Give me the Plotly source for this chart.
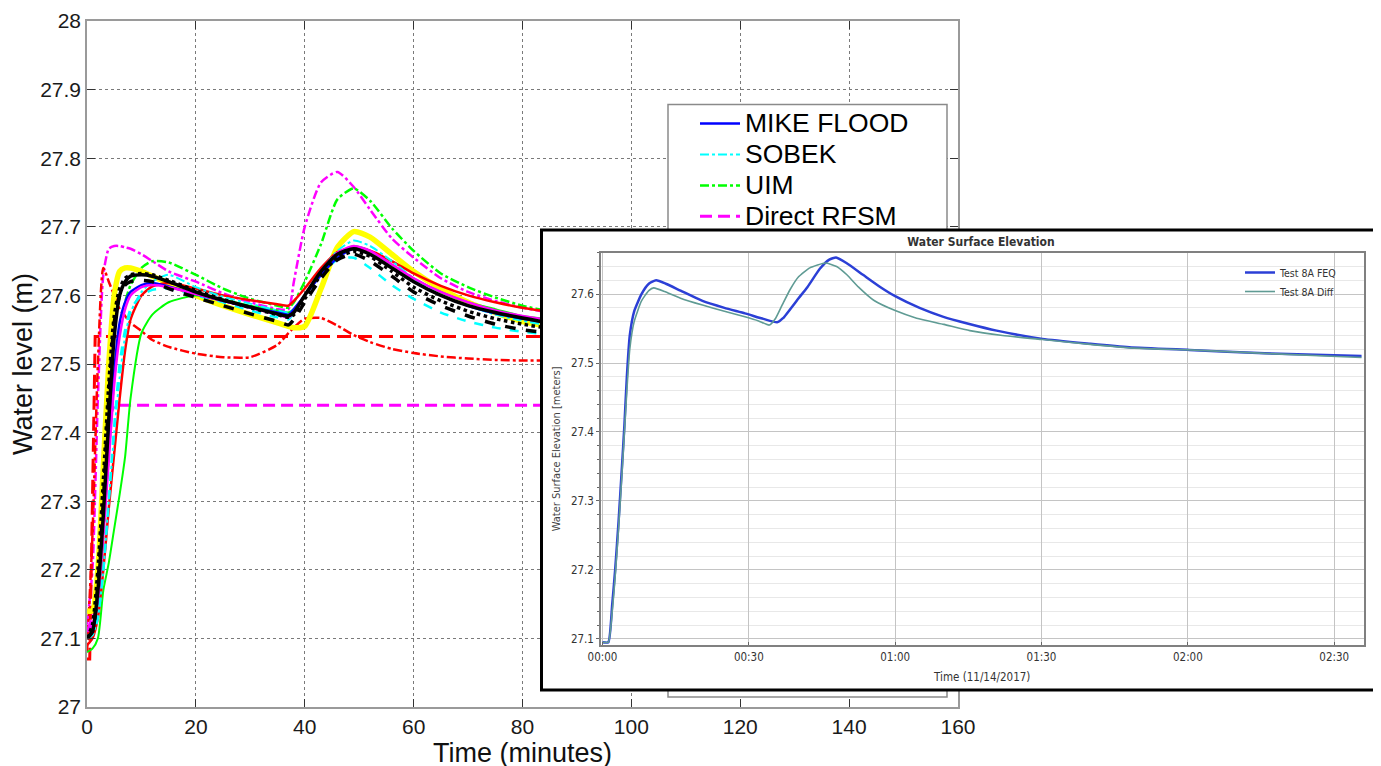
import plotly.graph_objects as go

W, H = 1381, 766
OFF = 8  # the page places the figure 8 px from the top-left corner; layout positions below are in screen pixels


def fx(px):
    return (px - OFF) / W


def fy(py):
    return (H - (py - OFF)) / H


# ---------------- main chart data (time in minutes, water level in m) ----------------
t = [0, 1, 2, 3, 4, 5, 6, 7, 8, 10, 12, 15, 20, 25, 30, 35, 37, 38, 40, 43, 46, 49, 52, 56, 60, 65, 70, 75, 80, 85, 90]

mike_flood = [27.10, 27.11, 27.16, 27.26, 27.38, 27.49, 27.56, 27.59, 27.605, 27.615, 27.618, 27.613, 27.602, 27.592, 27.583,
              27.575, 27.572, 27.58, 27.6, 27.63, 27.655, 27.668, 27.66, 27.64, 27.62, 27.6, 27.585, 27.574, 27.566, 27.56, 27.555]
sobek = [27.10, 27.105, 27.13, 27.2, 27.3, 27.4, 27.48, 27.54, 27.575, 27.605, 27.62, 27.63, 27.612, 27.598, 27.588,
         27.578, 27.575, 27.58, 27.6, 27.635, 27.665, 27.68, 27.672, 27.65, 27.625, 27.6, 27.585, 27.572, 27.563, 27.556, 27.55]
uim = [27.10, 27.11, 27.15, 27.25, 27.37, 27.48, 27.55, 27.59, 27.615, 27.64, 27.65, 27.648, 27.63, 27.61, 27.595,
       27.585, 27.582, 27.59, 27.62, 27.675, 27.74, 27.756, 27.738, 27.698, 27.665, 27.632, 27.612, 27.597, 27.585, 27.577, 27.572]
t_direct_rfsm = [0, 1, 2, 3, 4, 5, 160]
direct_rfsm = [27.11, 27.13, 27.2, 27.32, 27.42, 27.44, 27.44]

rfsm_eda = [27.12, 27.2, 27.45, 27.63, 27.668, 27.672, 27.672, 27.67, 27.668, 27.66, 27.65, 27.635, 27.62, 27.603, 27.59,
            27.58, 27.58, 27.62, 27.7, 27.765, 27.78, 27.758, 27.725, 27.683, 27.655, 27.625, 27.605, 27.592, 27.582, 27.575, 27.57]
t_flowroute = [0, 0.5, 1, 1.5, 160]
flowroute = [27.07, 27.07, 27.3, 27.54, 27.54]
ceasg = [27.08, 27.25, 27.5, 27.64, 27.62, 27.6, 27.58, 27.57, 27.56, 27.548, 27.535, 27.525, 27.515, 27.51, 27.51,
         27.528, 27.545, 27.553, 27.566, 27.567, 27.556, 27.542, 27.532, 27.522, 27.516, 27.511, 27.508, 27.506, 27.505, 27.505, 27.505]
infoworks = [27.14, 27.14, 27.2, 27.35, 27.5, 27.6, 27.635, 27.64, 27.64, 27.635, 27.628, 27.618, 27.6, 27.585, 27.572,
             27.56, 27.555, 27.553, 27.555, 27.61, 27.67, 27.693, 27.685, 27.66, 27.635, 27.61, 27.59, 27.575, 27.562, 27.555, 27.55]
tuflow = [27.10, 27.11, 27.17, 27.28, 27.42, 27.54, 27.6, 27.62, 27.628, 27.63, 27.628, 27.62, 27.605, 27.593, 27.583,
          27.573, 27.57, 27.575, 27.6, 27.635, 27.66, 27.668, 27.66, 27.64, 27.62, 27.6, 27.585, 27.575, 27.567, 27.56, 27.555]
tuflow_fv = [27.10, 27.11, 27.18, 27.3, 27.45, 27.56, 27.6, 27.615, 27.62, 27.622, 27.62, 27.61, 27.597, 27.585, 27.573,
             27.562, 27.557, 27.565, 27.59, 27.625, 27.652, 27.66, 27.65, 27.628, 27.605, 27.585, 27.57, 27.558, 27.55, 27.545, 27.54]
tuflow_gpu = [27.10, 27.12, 27.2, 27.33, 27.47, 27.57, 27.61, 27.625, 27.63, 27.632, 27.63, 27.622, 27.607, 27.594, 27.582,
              27.572, 27.568, 27.572, 27.595, 27.63, 27.655, 27.664, 27.657, 27.635, 27.612, 27.592, 27.577, 27.566, 27.558, 27.552, 27.548]
isis_2d = [27.11, 27.12, 27.16, 27.25, 27.36, 27.47, 27.54, 27.58, 27.6, 27.612, 27.615, 27.612, 27.602, 27.592, 27.582,
           27.572, 27.568, 27.575, 27.6, 27.635, 27.662, 27.672, 27.665, 27.645, 27.625, 27.605, 27.59, 27.578, 27.57, 27.564, 27.56]
jflow = [27.09, 27.1, 27.13, 27.2, 27.29, 27.37, 27.45, 27.52, 27.565, 27.6, 27.613, 27.618, 27.61, 27.6, 27.593,
         27.587, 27.585, 27.592, 27.61, 27.64, 27.663, 27.67, 27.665, 27.65, 27.632, 27.614, 27.6, 27.59, 27.582, 27.576, 27.572]
lisflood = [27.08, 27.085, 27.1, 27.17, 27.21, 27.26, 27.31, 27.365, 27.45, 27.545, 27.572, 27.59, 27.6, 27.594, 27.585,
            27.578, 27.575, 27.58, 27.6, 27.635, 27.66, 27.672, 27.665, 27.645, 27.625, 27.605, 27.59, 27.58, 27.57, 27.565, 27.56]
xpstorm = [27.10, 27.105, 27.13, 27.2, 27.3, 27.41, 27.5, 27.55, 27.58, 27.6, 27.608, 27.61, 27.6, 27.59, 27.578,
           27.568, 27.565, 27.575, 27.6, 27.63, 27.652, 27.655, 27.64, 27.615, 27.595, 27.575, 27.562, 27.553, 27.547, 27.543, 27.54]

x_ticks = [0, 20, 40, 60, 80, 100, 120, 140, 160]
y_ticks = [27, 27.1, 27.2, 27.3, 27.4, 27.5, 27.6, 27.7, 27.8, 27.9, 28]

# ---------------- inset chart data (minutes since 00:00, metres) ----------------
t_feq = [0, 1.2, 2, 2.6, 3.3, 4, 4.5, 5, 5.6, 6.5, 8, 9.5, 11, 13, 16, 20.5, 25, 29.2, 33, 35.8, 37, 40.2, 42, 44.6, 46.5,
         47.9, 50, 53.4, 57, 60, 65, 69.9, 75, 80.8, 90.2, 100, 108, 120.3, 135.7, 155.6]
feq = [27.095, 27.095, 27.15, 27.2, 27.27, 27.35, 27.41, 27.48, 27.54, 27.575, 27.6, 27.615, 27.62, 27.615, 27.605, 27.59,
       27.58, 27.572, 27.564, 27.559, 27.565, 27.594, 27.61, 27.637, 27.65, 27.653, 27.645, 27.628, 27.61, 27.597, 27.58,
       27.567, 27.557, 27.547, 27.535, 27.528, 27.523, 27.519, 27.514, 27.51]
t_diff = [0, 1.2, 2, 2.6, 3.3, 4, 4.5, 5, 5.6, 6.5, 8, 9.5, 10.5, 13, 16, 20.5, 25, 29.2, 32, 34.2, 35.5, 36.9, 38.5, 40.2,
          42.5, 45.7, 48, 50.1, 52.5, 55.6, 60, 64.4, 70, 75.3, 82, 90.2, 100, 108, 120.3, 135.7, 155.6]
diff = [27.095, 27.095, 27.14, 27.19, 27.26, 27.34, 27.4, 27.46, 27.52, 27.56, 27.59, 27.605, 27.609, 27.603, 27.594, 27.584,
        27.575, 27.567, 27.561, 27.555, 27.565, 27.585, 27.607, 27.625, 27.638, 27.645, 27.64, 27.628, 27.61, 27.591, 27.576,
        27.565, 27.556, 27.547, 27.54, 27.534, 27.527, 27.522, 27.519, 27.514, 27.508]
inset_tickvals = [0, 30, 60, 90, 120, 150]
inset_ticktext = ["00:00", "00:30", "01:00", "01:30", "02:00", "02:30"]
inset_yticks = [27.1, 27.2, 27.3, 27.4, 27.5, 27.6]

MAIN_FONT = "Liberation Sans, Arial, sans-serif"
NARROW_FONT = "Liberation Sans Narrow, DejaVu Sans Condensed, Arial Narrow, Liberation Sans, sans-serif"
LEGEND_TEXT = '<span style="font-size:26.5px">{}</span>'

fig = go.Figure()


def main_line(x, y, name, color, width, dash="solid", legend=False, rank=1000, shape="spline"):
    fig.add_trace(go.Scatter(
        x=x, y=y, name=LEGEND_TEXT.format(name) if legend else name, mode="lines",
        showlegend=legend, legendrank=rank, hovertemplate=name + ": %{y:.3f} m<extra></extra>",
        line=dict(color=color, width=width, dash=dash, shape=shape, smoothing=0.6),
        xaxis="x", yaxis="y", legend="legend"))


# drawing order (bottom to top)
main_line(t, rfsm_eda, "RFSM EDA", "#ff00ff", 2.5, "dashdot")
main_line(t, uim, "UIM", "#00ff00", 2.5, "dashdot", True, 3)
main_line(t, ceasg, "Ceasg", "#ff0000", 2.5, "dashdot")
main_line(t_flowroute, flowroute, "Flowroute-i", "#ff0000", 3, "14px,7px", shape="linear")
main_line(t_direct_rfsm, direct_rfsm, "Direct RFSM", "#ff00ff", 3, "12px,6px", True, 4, shape="linear")
main_line(t, infoworks, "InfoWorks ICM", "#ffff00", 5.5)
main_line(t, lisflood, "LISFLOOD-FP", "#00ff00", 2)
main_line(t, jflow, "JFLOW+", "#ff0000", 2.5)
main_line(t, xpstorm, "XPSTORMWATER", "#00ffff", 2.5, "dash")
main_line(t, sobek, "SOBEK", "#00ffff", 2, "dashdot", True, 2)
main_line(t, mike_flood, "MIKE FLOOD", "#0000ff", 2.5, "solid", True, 1)
main_line(t, isis_2d, "ISIS 2D", "#ff00ff", 2.5)
main_line(t, tuflow_fv, "TUFLOW FV", "#000000", 3.5, "dash")
main_line(t, tuflow_gpu, "TUFLOW GPU", "#000000", 3.5, "dot")
main_line(t, tuflow, "TUFLOW", "#000000", 3.5)

# frame layer (covers the main chart where the legend box and the inset sit)
fig.add_trace(go.Scatter(x=[None], y=[None], xaxis="x2", yaxis="y2", showlegend=False, hoverinfo="skip"))

# inset traces
fig.add_trace(go.Scatter(x=t_feq, y=feq, name="Test 8A FEQ", mode="lines", xaxis="x3", yaxis="y3", legend="legend2",
                         line=dict(color="#2b3fd6", width=2.5, shape="spline", smoothing=0.5)))
fig.add_trace(go.Scatter(x=t_diff, y=diff, name="Test 8A Diff", mode="lines", xaxis="x3", yaxis="y3", legend="legend2",
                         line=dict(color="#5f9b94", width=1.6, shape="spline", smoothing=0.5)))

grid_main = dict(showgrid=True, gridcolor="#7a7a7a", griddash="dot", gridwidth=1, zeroline=False,
                 showline=True, linecolor="#9a9a9a", linewidth=1.5, mirror="ticks", automargin=False,
                 ticks="inside", ticklen=8, tickcolor="#333333", tickwidth=1,
                 tickfont=dict(family=MAIN_FONT, size=21, color="#1a1a1a"))

fig.update_layout(
    template="none",
    width=W, height=H,
    margin=dict(l=0, r=0, t=0, b=0, pad=0),
    paper_bgcolor="white", plot_bgcolor="rgba(255,255,255,0)",
    font=dict(family=MAIN_FONT, color="#111111"),
    hovermode="closest",
    xaxis=dict(domain=[fx(87), fx(958)], range=[0, 160], tickvals=x_ticks, anchor="y",
               title=dict(text="Time (minutes)", font=dict(size=27, color="#111111"), standoff=5), **grid_main),
    yaxis=dict(domain=[fy(707), fy(21)], range=[27, 28], tickvals=y_ticks, anchor="x",
               title=dict(text="Water level (m)", font=dict(size=27, color="#111111"), standoff=3), **grid_main),
    xaxis2=dict(domain=[0, 1], range=[OFF, W + OFF], visible=False, anchor="y2", fixedrange=True, automargin=False),
    yaxis2=dict(domain=[0, 1], range=[H + OFF, OFF], visible=False, anchor="x2", fixedrange=True, automargin=False),
    xaxis3=dict(domain=[fx(601), fx(1363.5)], range=[-0.3, 156], anchor="y3", automargin=False,
                tickvals=inset_tickvals, ticktext=inset_ticktext, ticks="inside", ticklen=3, tickcolor="#666666",
                showgrid=True, gridcolor="#c4c4c4", gridwidth=1, zeroline=False,
                showline=True, linecolor="#808080", linewidth=1.5, mirror=True,
                tickfont=dict(family=NARROW_FONT, size=11.5, color="#333333"),
                title=dict(text="Time (11/14/2017)", font=dict(family=NARROW_FONT, size=11.5, color="#333333"), standoff=10)),
    yaxis3=dict(domain=[fy(645), fy(252.7)], range=[27.091, 27.66], anchor="x3", automargin=False,
                tickvals=inset_yticks, ticks="outside", ticklen=3, tickcolor="#666666",
                showgrid=True, gridcolor="#c4c4c4", gridwidth=1, zeroline=False,
                minor=dict(dtick=0.02, tick0=27.1, showgrid=True, gridcolor="#e8e8e8", ticks="outside", ticklen=2),
                showline=True, linecolor="#808080", linewidth=1.5, mirror=True,
                tickfont=dict(family=NARROW_FONT, size=11.5, color="#333333"),
                title=dict(text="Water Surface Elevation [meters]", font=dict(family=NARROW_FONT, size=11, color="#444444"),
                           standoff=8)),
    title=dict(text="<b>Water Surface Elevation</b>", x=fx(981), y=fy(241.7), xanchor="center", yanchor="middle",
               xref="paper", yref="paper", font=dict(family=NARROW_FONT, size=12, color="#333333")),
    legend=dict(x=fx(695), y=fy(103), xanchor="left", yanchor="top", bgcolor="rgba(255,255,255,0)", itemwidth=40,
                borderwidth=0, font=dict(family=MAIN_FONT, size=21.5, color="#000000"), tracegroupgap=0),
    legend2=dict(x=fx(1342), y=fy(258), xanchor="right", yanchor="top", bgcolor="rgba(255,255,255,0)",
                 borderwidth=0, font=dict(family=NARROW_FONT, size=10.5, color="#333333")),
    shapes=[
        # main legend box (extends behind the inset)
        dict(type="rect", xref="x2", yref="y2", x0=668, x1=947, y0=104.5, y1=697, layer="below",
             fillcolor="white", line=dict(color="#8a8a8a", width=1.5)),
        # inset frame
        dict(type="rect", xref="x2", yref="y2", x0=541.5, x1=1400, y0=230, y1=690, layer="below",
             fillcolor="white", line=dict(color="#000000", width=3)),
    ],
)

fig.write_html("out.html")
